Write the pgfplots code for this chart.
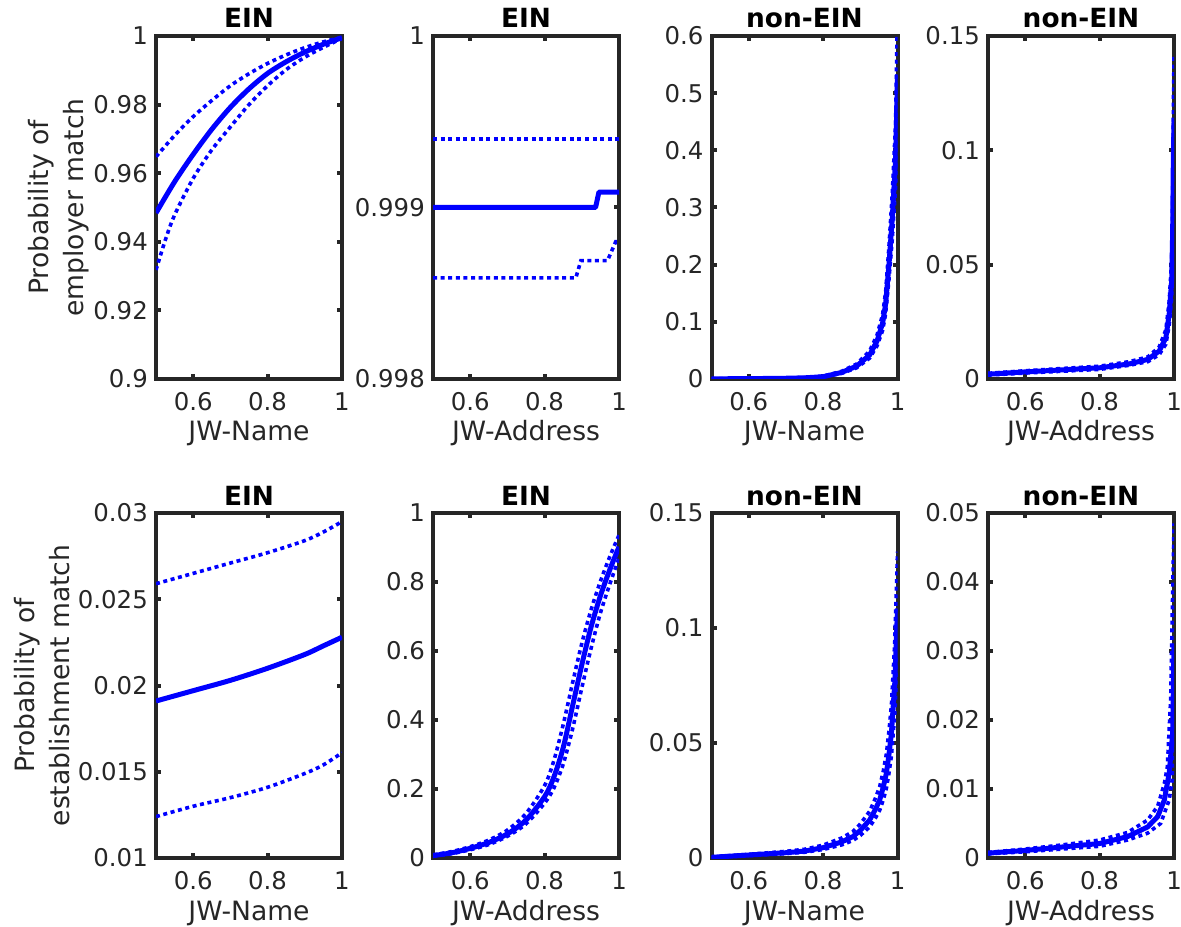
\documentclass[border=0pt]{standalone}
\usepackage{fontspec}
\setmainfont{DejaVu Sans}
\usepackage{pgfplots}
\pgfplotsset{compat=1.18}
\definecolor{axgray}{RGB}{38,38,38}
\definecolor{mblue}{RGB}{0,0,255}

\pgfplotsset{
  every axis title shift=0pt,
  mpanel/.style={
    scale only axis, width=93pt,
    xmin=0.5, xmax=1, xtick={0.6,0.8,1}, xticklabels={0.6,0.8,1},
    scaled ticks=false,
    axis line style={line width=2pt, draw=axgray},
    major tick style={line width=2pt, draw=axgray},
    tick align=inside, major tick length=2.5pt,
    ticklabel style={font=\fontsize{12.2}{14}\selectfont, text=axgray},
    xticklabel style={anchor=north, inner sep=0pt, yshift=-6.5pt},
    yticklabel style={anchor=east, inner sep=0pt, xshift=-3.9pt},
    label style={font=\fontsize{13.3}{17.5}\selectfont, text=axgray},
    xlabel style={at={(axis description cs:0.5,0)}, anchor=base, yshift=-31pt},
    ylabel style={anchor=center, align=center},
    title style={at={(axis description cs:0.5,1)}, anchor=base, yshift=4pt,
      font=\bfseries\fontsize{13.2}{15}\selectfont, text=black},
  },
  top/.style={height=171.5pt},
  bot/.style={height=172.5pt},
  solidc/.style={mblue, line width=2.5pt, line join=round},
  dotc/.style={mblue, line width=1.8pt, dash pattern=on 2pt off 1.8pt},
}

\begin{document}
\begin{tikzpicture}
\path[use as bounding box] (0,0) rectangle (590.5pt,463pt);

% ---- top row: employer match ----
\begin{axis}[mpanel, top, at={(78pt,273.5pt)}, anchor=south west,
  title={EIN}, xlabel={JW-Name},
  ylabel={Probability of\\employer match},
  ylabel style={at={(axis description cs:-0.523,0.5)}},
  ymin=0.9, ymax=1, ytick={0.9,0.92,0.94,0.96,0.98,1},
  yticklabels={0.9,0.92,0.94,0.96,0.98,1}]
\addplot[dotc, smooth] coordinates {(0.5,0.9648)(0.55,0.9710)(0.6,0.9765)(0.65,0.9812)(0.7,0.9855)(0.75,0.9890)(0.8,0.9920)(0.85,0.9945)(0.9,0.9966)(0.95,0.9983)(1.0,0.9996)};
\addplot[dotc, smooth] coordinates {(0.5,0.9318)(0.525,0.9405)(0.55,0.9478)(0.6,0.9585)(0.65,0.9668)(0.7,0.9735)(0.75,0.9800)(0.8,0.9855)(0.85,0.9902)(0.9,0.9938)(0.95,0.9967)(1.0,0.9993)};
\addplot[solidc, smooth] coordinates {(0.5,0.9484)(0.55,0.9575)(0.6,0.9655)(0.65,0.9728)(0.7,0.9792)(0.75,0.9846)(0.8,0.9891)(0.85,0.9925)(0.9,0.9953)(0.95,0.9976)(1.0,0.9995)};
\end{axis}

\begin{axis}[mpanel, top, at={(216.5pt,273.5pt)}, anchor=south west,
  title={EIN}, xlabel={JW-Address},
  ymin=0.998, ymax=1, ytick={0.998,0.999,1},
  yticklabels={0.998,0.999,1}]
\addplot[dotc] coordinates {(0.5,0.99940)(1,0.99940)};
\addplot[dotc] coordinates {(0.5,0.99859)(0.884,0.99859)(0.8975,0.99869)(0.969,0.99869)(0.991,0.99880)(1,0.99880)};
\addplot[solidc] coordinates {(0.5,0.99900)(0.937,0.99900)(0.946,0.99909)(1,0.99909)};
\end{axis}

\begin{axis}[mpanel, top, at={(355.75pt,273.5pt)}, anchor=south west,
  title={non-EIN}, xlabel={JW-Name},
  ymin=0, ymax=0.6, ytick={0,0.1,0.2,0.3,0.4,0.5,0.6},
  yticklabels={0,0.1,0.2,0.3,0.4,0.5,0.6}]
\addplot[dotc] coordinates {(0.5,0.0004)(0.6,0.0008)(0.7,0.0016)(0.75,0.0025)(0.8,0.0050)(0.85,0.0135)(0.89,0.0262)(0.925,0.049)(0.945,0.077)(0.96,0.113)(0.968,0.152)(0.977,0.232)(0.986,0.326)(0.995,0.450)(1.0,0.66)};
\addplot[dotc] coordinates {(0.5,0.0002)(0.6,0.0005)(0.7,0.0011)(0.75,0.0017)(0.8,0.0034)(0.85,0.0099)(0.89,0.0195)(0.925,0.0365)(0.945,0.058)(0.96,0.085)(0.968,0.114)(0.977,0.174)(0.986,0.245)(0.995,0.337)(1.0,0.46)};
\addplot[solidc] coordinates {(0.5,0.0003)(0.6,0.0006)(0.7,0.0013)(0.75,0.0020)(0.8,0.0040)(0.85,0.0115)(0.89,0.0225)(0.925,0.042)(0.945,0.0665)(0.96,0.098)(0.968,0.131)(0.977,0.200)(0.986,0.282)(0.995,0.387)(1.0,0.533)};
\end{axis}

\begin{axis}[mpanel, top, at={(494pt,273.5pt)}, anchor=south west,
  title={non-EIN}, xlabel={JW-Address},
  ymin=0, ymax=0.15, ytick={0,0.05,0.1,0.15},
  yticklabels={0,0.05,0.1,0.15}]
\addplot[dotc] coordinates {(0.5,0.0025)(0.6,0.0036)(0.7,0.0046)(0.8,0.0056)(0.88,0.0076)(0.93,0.0097)(0.96,0.0140)(0.978,0.0215)(0.987,0.034)(0.9937,0.052)(0.9964,0.079)(0.998,0.115)(1.0,0.142)};
\addplot[dotc] coordinates {(0.5,0.0017)(0.6,0.0026)(0.7,0.0034)(0.8,0.0042)(0.88,0.0060)(0.93,0.0076)(0.96,0.0106)(0.978,0.0152)(0.987,0.0235)(0.9937,0.035)(0.9964,0.052)(0.998,0.075)(1.0,0.09)};
\addplot[solidc] coordinates {(0.5,0.0021)(0.6,0.0031)(0.7,0.0040)(0.8,0.0049)(0.88,0.0066)(0.93,0.0086)(0.96,0.0122)(0.978,0.018)(0.987,0.0283)(0.9937,0.0429)(0.9964,0.0647)(0.998,0.0939)(1.0,0.1128)};
\end{axis}

% ---- bottom row: establishment match ----
\begin{axis}[mpanel, bot, at={(78pt,34pt)}, anchor=south west,
  title={EIN}, xlabel={JW-Name},
  ylabel={Probability of\\establishment match},
  ylabel style={at={(axis description cs:-0.6145,0.5)}},
  ymin=0.01, ymax=0.03, ytick={0.01,0.015,0.02,0.025,0.03},
  yticklabels={0.01,0.015,0.02,0.025,0.03}]
\addplot[dotc, smooth] coordinates {(0.5,0.0259)(0.6,0.0265)(0.7,0.0271)(0.8,0.0277)(0.9,0.0284)(0.95,0.0289)(1.0,0.0295)};
\addplot[dotc, smooth] coordinates {(0.5,0.0124)(0.6,0.0130)(0.7,0.0135)(0.8,0.0141)(0.9,0.0149)(0.95,0.0154)(1.0,0.0161)};
\addplot[solidc, smooth] coordinates {(0.5,0.0191)(0.6,0.0197)(0.7,0.0203)(0.8,0.0210)(0.9,0.0218)(0.95,0.0223)(1.0,0.0228)};
\end{axis}

\begin{axis}[mpanel, bot, at={(216.5pt,34pt)}, anchor=south west,
  title={EIN}, xlabel={JW-Address},
  ymin=0, ymax=1, ytick={0,0.2,0.4,0.6,0.8,1},
  yticklabels={0,0.2,0.4,0.6,0.8,1}]
\addplot[dotc, smooth] coordinates {(0.5,0.0092)(0.55,0.0186)(0.6,0.0328)(0.65,0.052)(0.7,0.081)(0.75,0.129)(0.8,0.210)(0.825,0.283)(0.85,0.387)(0.875,0.507)(0.9,0.622)(0.925,0.72)(0.95,0.802)(0.975,0.873)(1.0,0.936)};
\addplot[dotc, smooth] coordinates {(0.5,0.005)(0.55,0.0125)(0.6,0.024)(0.65,0.039)(0.7,0.063)(0.75,0.099)(0.8,0.159)(0.825,0.203)(0.85,0.272)(0.875,0.373)(0.9,0.493)(0.925,0.608)(0.95,0.71)(0.975,0.793)(1.0,0.87)};
\addplot[solidc, smooth] coordinates {(0.5,0.007)(0.55,0.015)(0.6,0.028)(0.65,0.045)(0.7,0.070)(0.75,0.110)(0.8,0.178)(0.825,0.235)(0.85,0.32)(0.875,0.44)(0.9,0.56)(0.925,0.67)(0.95,0.76)(0.975,0.835)(1.0,0.902)};
\end{axis}

\begin{axis}[mpanel, bot, at={(355.75pt,34pt)}, anchor=south west,
  title={non-EIN}, xlabel={JW-Name},
  ymin=0, ymax=0.15, ytick={0,0.05,0.1,0.15},
  yticklabels={0,0.05,0.1,0.15}]
\addplot[dotc] coordinates {(0.5,0.0005)(0.6,0.0016)(0.7,0.0029)(0.75,0.0038)(0.8,0.0056)(0.85,0.0087)(0.88,0.0115)(0.9,0.0148)(0.925,0.0203)(0.94,0.0258)(0.952,0.0310)(0.962,0.0380)(0.970,0.0452)(0.977,0.0552)(0.9836,0.0665)(0.9926,0.094)(1.0,0.1332)};
\addplot[dotc] coordinates {(0.5,0.0002)(0.6,0.0010)(0.7,0.0019)(0.75,0.0025)(0.8,0.0037)(0.85,0.0057)(0.88,0.0076)(0.9,0.0098)(0.925,0.0135)(0.94,0.0172)(0.952,0.0207)(0.962,0.0254)(0.970,0.0302)(0.977,0.0369)(0.9836,0.0444)(0.9926,0.0623)(1.0,0.088)};
\addplot[solidc] coordinates {(0.5,0.0003)(0.6,0.0013)(0.7,0.0023)(0.75,0.0030)(0.8,0.0045)(0.85,0.0070)(0.88,0.0093)(0.9,0.0120)(0.925,0.0165)(0.94,0.021)(0.952,0.0252)(0.962,0.031)(0.970,0.0368)(0.977,0.045)(0.9836,0.0542)(0.9926,0.076)(1.0,0.1085)};
\end{axis}

\begin{axis}[mpanel, bot, at={(494pt,34pt)}, anchor=south west,
  title={non-EIN}, xlabel={JW-Address},
  ymin=0, ymax=0.05, ytick={0,0.01,0.02,0.03,0.04,0.05},
  yticklabels={0,0.01,0.02,0.03,0.04,0.05}]
\addplot[dotc] coordinates {(0.5,0.0008)(0.6,0.0013)(0.7,0.0019)(0.8,0.0026)(0.875,0.0037)(0.929,0.0055)(0.956,0.0075)(0.974,0.0108)(0.982,0.0132)(0.991,0.023)(0.996,0.0374)(1.0,0.0485)};
\addplot[dotc] coordinates {(0.5,0.0006)(0.6,0.0009)(0.7,0.0013)(0.8,0.0017)(0.875,0.0026)(0.929,0.0036)(0.964,0.0050)(0.987,0.0084)(0.9964,0.0118)(1.0,0.02)};
\addplot[solidc] coordinates {(0.5,0.0007)(0.6,0.0011)(0.7,0.0016)(0.8,0.0021)(0.875,0.0031)(0.929,0.0045)(0.956,0.0060)(0.974,0.0084)(0.987,0.0123)(0.9964,0.0181)(1.0,0.0311)};
\end{axis}
\end{tikzpicture}
\end{document}
